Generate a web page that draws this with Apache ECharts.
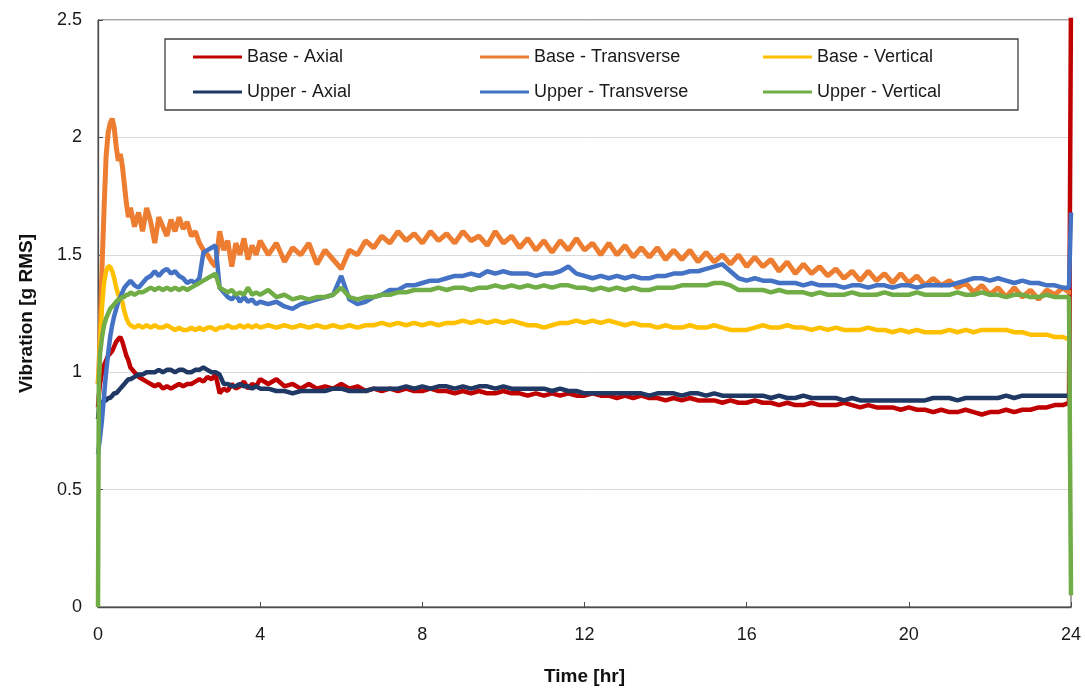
<!DOCTYPE html>
<html>
<head>
<meta charset="utf-8">
<script src="https://cdn.jsdelivr.net/npm/echarts@6/dist/echarts.min.js"></script>
<style>html,body{margin:0;padding:0;background:#fff}#c{width:1085px;height:688px}</style>
</head>
<body>
<div id="c"></div>
<script>
// Time [hr]
const timeHr = [
  0,0.02,0.05,0.1,0.15,0.2,0.25,0.3,0.35,0.4,
  0.45,0.5,0.55,0.6,0.65,0.7,0.75,0.8,0.9,1.0,
  1.1,1.2,1.3,1.4,1.5,1.6,1.7,1.8,1.9,2.0,
  2.1,2.2,2.3,2.4,2.5,2.6,2.7,2.8,2.9,3.0,
  3.1,3.2,3.3,3.4,3.5,3.6,3.7,3.8,3.9,4.0,
  4.2,4.4,4.6,4.8,5.0,5.2,5.4,5.6,5.8,6.0,
  6.2,6.4,6.6,6.8,7.0,7.2,7.4,7.6,7.8,8.0,
  8.2,8.4,8.6,8.8,9.0,9.2,9.4,9.6,9.8,10.0,
  10.2,10.4,10.6,10.8,11.0,11.2,11.4,11.6,11.8,12.0,
  12.2,12.4,12.6,12.8,13.0,13.2,13.4,13.6,13.8,14.0,
  14.2,14.4,14.6,14.8,15.0,15.2,15.4,15.6,15.8,16.0,
  16.2,16.4,16.6,16.8,17.0,17.2,17.4,17.6,17.8,18.0,
  18.2,18.4,18.6,18.8,19.0,19.2,19.4,19.6,19.8,20.0,
  20.2,20.4,20.6,20.8,21.0,21.2,21.4,21.6,21.8,22.0,
  22.2,22.4,22.6,22.8,23.0,23.2,23.4,23.6,23.8,
  23.95,24
];
const baseAxial = [
  0.85,0.9,0.95,1.0,1.03,1.05,1.07,1.08,1.09,1.11,
  1.13,1.14,1.15,1.13,1.1,1.07,1.05,1.02,1.0,0.98,
  0.97,0.96,0.95,0.94,0.95,0.93,0.94,0.93,0.94,0.95,
  0.94,0.95,0.95,0.96,0.97,0.96,0.98,0.97,0.99,0.91,
  0.93,0.92,0.95,0.93,0.94,0.96,0.93,0.95,0.94,0.97,
  0.95,0.97,0.94,0.95,0.93,0.95,0.93,0.94,0.93,0.95,
  0.93,0.94,0.92,0.93,0.92,0.93,0.92,0.93,0.92,0.92,
  0.93,0.92,0.92,0.91,0.92,0.91,0.92,0.91,0.91,0.92,
  0.91,0.91,0.9,0.91,0.9,0.91,0.9,0.91,0.9,0.9,
  0.91,0.9,0.9,0.89,0.9,0.89,0.9,0.89,0.89,0.88,
  0.89,0.88,0.89,0.88,0.88,0.88,0.87,0.88,0.87,0.87,
  0.88,0.87,0.87,0.86,0.87,0.86,0.86,0.87,0.86,0.86,
  0.86,0.87,0.86,0.85,0.86,0.85,0.85,0.85,0.84,0.85,
  0.84,0.84,0.83,0.84,0.83,0.83,0.84,0.83,0.82,0.83,
  0.83,0.84,0.83,0.84,0.84,0.85,0.85,0.86,0.86,
  0.87,2.6
];
const baseTransverse = [
  0.95,1.0,1.15,1.45,1.7,1.92,2.02,2.06,2.08,2.04,
  1.96,1.9,1.93,1.88,1.8,1.72,1.66,1.7,1.62,1.68,
  1.6,1.7,1.64,1.55,1.66,1.62,1.58,1.65,1.6,1.66,
  1.61,1.64,1.58,1.6,1.55,1.52,1.5,1.47,1.45,1.6,
  1.52,1.56,1.45,1.55,1.5,1.57,1.48,1.54,1.5,1.56,
  1.5,1.55,1.47,1.53,1.5,1.55,1.46,1.52,1.48,1.44,
  1.52,1.5,1.56,1.53,1.58,1.55,1.6,1.56,1.59,1.55,
  1.6,1.56,1.59,1.55,1.6,1.56,1.58,1.54,1.6,1.55,
  1.58,1.53,1.57,1.52,1.56,1.51,1.56,1.52,1.57,1.52,
  1.55,1.5,1.55,1.5,1.54,1.49,1.53,1.49,1.53,1.48,
  1.52,1.48,1.52,1.47,1.51,1.47,1.5,1.46,1.5,1.45,
  1.49,1.45,1.48,1.43,1.47,1.42,1.46,1.42,1.45,1.41,
  1.44,1.4,1.43,1.39,1.43,1.39,1.42,1.38,1.42,1.38,
  1.41,1.37,1.4,1.37,1.39,1.36,1.38,1.34,1.37,1.33,
  1.36,1.32,1.36,1.32,1.35,1.31,1.35,1.33,1.36,
  1.34,1.34
];
const baseVertical = [
  0.95,1.0,1.12,1.28,1.38,1.43,1.45,1.45,1.43,1.4,
  1.36,1.33,1.31,1.3,1.26,1.23,1.21,1.2,1.19,1.2,
  1.19,1.2,1.19,1.2,1.19,1.19,1.2,1.19,1.18,1.19,
  1.18,1.18,1.19,1.18,1.19,1.18,1.19,1.19,1.18,1.19,
  1.19,1.2,1.19,1.19,1.2,1.19,1.2,1.19,1.2,1.19,
  1.2,1.19,1.2,1.19,1.2,1.19,1.2,1.19,1.2,1.19,
  1.2,1.19,1.2,1.2,1.21,1.2,1.21,1.2,1.21,1.2,
  1.21,1.2,1.21,1.21,1.22,1.21,1.22,1.21,1.22,1.21,
  1.22,1.21,1.2,1.2,1.19,1.2,1.21,1.21,1.22,1.21,
  1.22,1.21,1.22,1.21,1.2,1.21,1.2,1.2,1.19,1.2,
  1.19,1.19,1.2,1.19,1.19,1.2,1.19,1.18,1.18,1.18,
  1.19,1.2,1.19,1.19,1.2,1.19,1.19,1.18,1.19,1.18,
  1.19,1.18,1.18,1.18,1.19,1.18,1.18,1.17,1.18,1.17,
  1.18,1.17,1.17,1.17,1.18,1.17,1.18,1.17,1.18,1.18,
  1.18,1.18,1.17,1.17,1.16,1.16,1.16,1.15,1.15,
  1.14,1.14
];
const upperAxial = [
  0.8,0.84,0.86,0.87,0.88,0.88,0.89,0.89,0.9,0.91,
  0.91,0.92,0.93,0.94,0.95,0.96,0.97,0.97,0.98,0.99,
  0.99,1.0,1.0,1.0,1.01,1.0,1.01,1.01,1.0,1.01,
  1.01,1.0,1.0,1.01,1.01,1.02,1.01,1.0,1.0,0.99,
  0.95,0.95,0.94,0.94,0.95,0.94,0.94,0.93,0.94,0.93,
  0.93,0.92,0.92,0.91,0.92,0.92,0.92,0.92,0.93,0.93,
  0.92,0.92,0.92,0.93,0.93,0.93,0.93,0.94,0.93,0.94,
  0.93,0.94,0.94,0.93,0.94,0.93,0.94,0.94,0.93,0.94,
  0.93,0.93,0.93,0.93,0.93,0.92,0.93,0.92,0.92,0.91,
  0.91,0.91,0.91,0.91,0.91,0.91,0.91,0.9,0.91,0.91,
  0.91,0.9,0.91,0.91,0.9,0.91,0.9,0.9,0.9,0.9,
  0.9,0.9,0.89,0.9,0.89,0.89,0.9,0.89,0.89,0.89,
  0.89,0.88,0.89,0.88,0.88,0.88,0.88,0.88,0.88,0.88,
  0.88,0.88,0.89,0.89,0.89,0.88,0.89,0.89,0.89,0.89,
  0.89,0.9,0.89,0.9,0.9,0.9,0.9,0.9,0.9,
  0.9,0.9
];
const upperTransverse = [
  0.65,0.68,0.72,0.8,0.9,1.0,1.08,1.15,1.2,1.24,
  1.27,1.3,1.32,1.34,1.36,1.37,1.38,1.39,1.37,1.36,
  1.38,1.4,1.41,1.43,1.41,1.43,1.44,1.42,1.43,1.41,
  1.4,1.38,1.39,1.38,1.4,1.51,1.52,1.53,1.54,1.36,
  1.34,1.32,1.31,1.33,1.3,1.32,1.3,1.31,1.29,1.3,
  1.29,1.3,1.28,1.27,1.29,1.3,1.31,1.32,1.33,1.41,
  1.31,1.29,1.3,1.32,1.33,1.35,1.35,1.37,1.37,1.38,
  1.39,1.39,1.4,1.41,1.41,1.42,1.41,1.43,1.42,1.43,
  1.42,1.42,1.42,1.41,1.42,1.42,1.43,1.45,1.42,1.41,
  1.4,1.41,1.4,1.41,1.4,1.41,1.4,1.4,1.41,1.41,
  1.42,1.42,1.43,1.43,1.44,1.45,1.46,1.43,1.4,1.39,
  1.4,1.39,1.39,1.38,1.38,1.38,1.37,1.38,1.37,1.37,
  1.37,1.36,1.37,1.37,1.36,1.37,1.37,1.36,1.37,1.37,
  1.36,1.37,1.37,1.37,1.37,1.38,1.39,1.4,1.4,1.39,
  1.4,1.39,1.38,1.39,1.38,1.38,1.37,1.37,1.36,
  1.36,1.68
];
const upperVertical = [
  0,0.95,1.08,1.15,1.2,1.23,1.25,1.27,1.28,1.29,
  1.3,1.31,1.31,1.32,1.32,1.33,1.33,1.34,1.33,1.34,
  1.34,1.35,1.36,1.35,1.36,1.35,1.36,1.35,1.36,1.35,
  1.36,1.35,1.36,1.37,1.38,1.39,1.4,1.41,1.42,1.36,
  1.35,1.34,1.35,1.33,1.34,1.33,1.36,1.33,1.34,1.33,
  1.35,1.32,1.33,1.31,1.32,1.31,1.32,1.32,1.33,1.36,
  1.32,1.31,1.32,1.32,1.33,1.33,1.34,1.34,1.35,1.35,
  1.35,1.36,1.35,1.36,1.36,1.35,1.36,1.36,1.37,1.36,
  1.37,1.36,1.37,1.36,1.37,1.36,1.37,1.37,1.36,1.36,
  1.35,1.36,1.35,1.36,1.35,1.36,1.35,1.35,1.36,1.36,
  1.36,1.37,1.37,1.37,1.37,1.38,1.38,1.37,1.35,1.35,
  1.35,1.35,1.34,1.35,1.34,1.34,1.34,1.33,1.34,1.33,
  1.33,1.33,1.34,1.33,1.33,1.33,1.34,1.33,1.33,1.33,
  1.34,1.33,1.33,1.33,1.33,1.34,1.33,1.33,1.34,1.33,
  1.33,1.32,1.33,1.33,1.32,1.32,1.33,1.32,1.32,
  1.32,0.05
];
const seriesNames = ['Base - Axial','Base - Transverse','Base - Vertical','Upper - Axial','Upper - Transverse','Upper - Vertical'];
const seriesValues = [baseAxial, baseTransverse, baseVertical, upperAxial, upperTransverse, upperVertical];
const seriesColors = ['#C00000','#ED7D31','#FFC000','#203864','#4472C4','#70AD47'];
const xTicks = [0,4,8,12,16,20,24];
const yTicks = [0,0.5,1,1.5,2,2.5];

const FONT = 'Liberation Sans, Arial, sans-serif';
const legendPos = [[193,48],[480,48],[763,48],[193,83],[480,83],[763,83]];

const chart = echarts.init(document.getElementById('c'), null, {renderer:'canvas'});
chart.setOption({
  animation: false,
  backgroundColor: '#fff',
  grid: {left: 98, right: 14, top: 20, bottom: 81, show: true, borderColor: '#4d4d4d', borderWidth: 1, backgroundColor: 'transparent', outerBoundsMode: 'none', containLabel: false},
  xAxis: {
    type: 'value', min: xTicks[0], max: xTicks[xTicks.length-1], interval: 4,
    name: 'Time [hr]', nameLocation: 'middle', nameGap: 60,
    nameTextStyle: {fontFamily: FONT, fontWeight: 'bold', fontSize: 19, color: '#111'},
    axisLine: {lineStyle: {color: '#4d4d4d', width: 1.3}},
    axisTick: {inside: true, length: 5, lineStyle: {color: '#4d4d4d'}},
    axisLabel: {fontFamily: FONT, fontSize: 18, color: '#1a1a1a', margin: 19},
    splitLine: {show: false}
  },
  yAxis: {
    type: 'value', min: yTicks[0], max: yTicks[yTicks.length-1], interval: 0.5,
    name: 'Vibration [g RMS]', nameLocation: 'middle', nameGap: 62,
    nameTextStyle: {fontFamily: FONT, fontWeight: 'bold', fontSize: 19, color: '#111'},
    axisLine: {show: true, lineStyle: {color: '#4d4d4d', width: 1.3}},
    axisTick: {show: true, inside: true, length: 5, lineStyle: {color: '#4d4d4d'}},
    axisLabel: {fontFamily: FONT, fontSize: 18, color: '#1a1a1a', margin: 16},
    splitLine: {lineStyle: {color: '#d9d9d9', width: 1}}
  },
  graphic: [{
    type: 'rect', z: 3, silent: true,
    shape: {x: 165, y: 39, width: 853, height: 71},
    style: {fill: '#fff', stroke: '#404040', lineWidth: 1.3}
  }],
  legend: seriesNames.map((n, i) => ({
    data: [n], left: legendPos[i][0], top: legendPos[i][1], padding: 0,
    icon: 'rect', itemWidth: 49, itemHeight: 3, itemGap: 0, z: 5,
    textStyle: {fontFamily: FONT, fontSize: 18, color: '#1a1a1a'}
  })),
  series: seriesNames.map((n, i) => ({
    name: n, type: 'line', showSymbol: false, symbol: 'none',
    color: seriesColors[i],
    lineStyle: {width: i === 1 ? 5 : 4.5, color: seriesColors[i]},
    data: timeHr.map((t, k) => [t, seriesValues[i][k]]),
    clip: true
  }))
});
</script>
</body>
</html>
